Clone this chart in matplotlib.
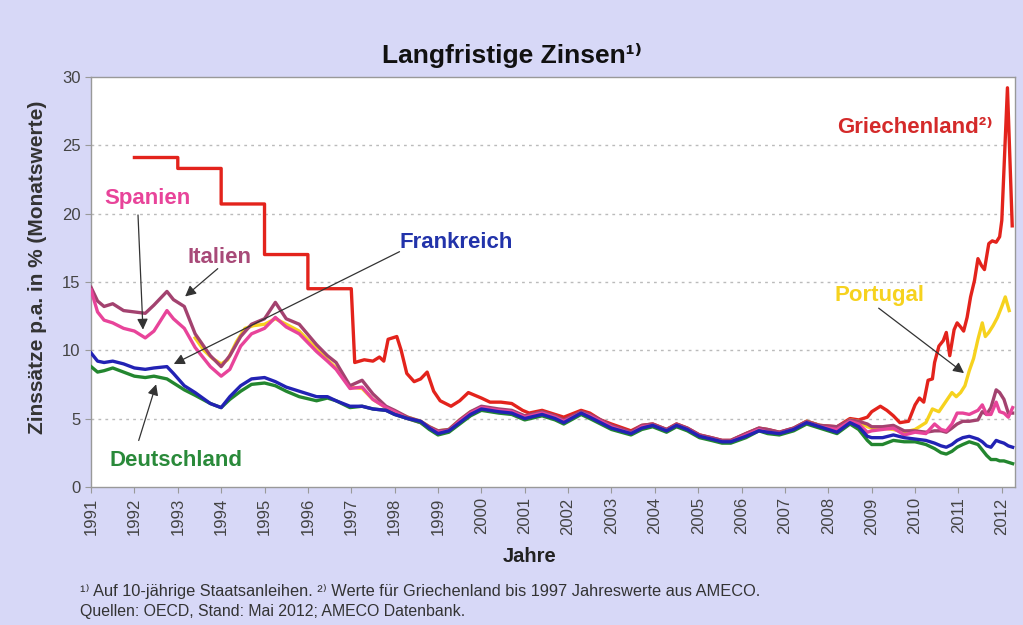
import numpy as np
import matplotlib
matplotlib.use("Agg")
import matplotlib.pyplot as plt

plt.rcParams['font.family'] = ['Liberation Sans', 'DejaVu Sans']

# gemeinsame Zeitpunkte (Dezimaljahre) fuer D, F, I, E
t = [1991.0, 1991.15, 1991.3, 1991.5, 1991.75, 1992.0, 1992.25, 1992.45, 1992.75, 1992.9,
     1993.15, 1993.4, 1993.75, 1994.0, 1994.2, 1994.45, 1994.7, 1995.0, 1995.25, 1995.5,
     1995.8, 1996.2, 1996.45, 1996.65, 1996.97, 1997.25, 1997.5, 1997.8, 1998.0, 1998.3,
     1998.6, 1998.8, 1999.0, 1999.25, 1999.5, 1999.75, 2000.0, 2000.4, 2000.7, 2001.0,
     2001.4, 2001.7, 2001.9, 2002.3, 2002.5, 2002.75, 2003.0, 2003.45, 2003.7, 2003.95,
     2004.27, 2004.5, 2004.75, 2005.03, 2005.3, 2005.55, 2005.75, 2006.1, 2006.4, 2006.6,
     2006.87, 2007.2, 2007.5, 2007.8, 2008.2, 2008.5, 2008.7, 2008.9, 2009.0, 2009.25,
     2009.5, 2009.75, 2010.0, 2010.25, 2010.45, 2010.6, 2010.72, 2010.85, 2010.97, 2011.1,
     2011.25, 2011.45, 2011.55, 2011.65, 2011.75, 2011.87, 2011.95, 2012.05, 2012.15, 2012.25]

deutschland = [8.8, 8.4, 8.5, 8.7, 8.4, 8.1, 8.0, 8.1, 7.9, 7.6,
               7.1, 6.7, 6.1, 5.8, 6.4, 7.0, 7.5, 7.6, 7.4, 7.0,
               6.6, 6.3, 6.5, 6.3, 5.8, 5.9, 5.7, 5.6, 5.3, 5.0,
               4.7, 4.2, 3.8, 4.0, 4.6, 5.2, 5.6, 5.4, 5.3, 4.9,
               5.2, 4.9, 4.6, 5.3, 5.0, 4.6, 4.2, 3.8, 4.2, 4.4,
               4.0, 4.4, 4.1, 3.6, 3.4, 3.2, 3.2, 3.6, 4.1, 3.9,
               3.8, 4.1, 4.6, 4.3, 3.9, 4.6, 4.2, 3.4, 3.1, 3.1,
               3.4, 3.3, 3.3, 3.1, 2.8, 2.5, 2.4, 2.6, 2.9, 3.1,
               3.3, 3.1, 2.7, 2.3, 2.0, 2.0, 1.9, 1.9, 1.8, 1.7]

frankreich = [9.8, 9.2, 9.1, 9.2, 9.0, 8.7, 8.6, 8.7, 8.8, 8.3,
              7.4, 6.9, 6.1, 5.8, 6.6, 7.4, 7.9, 8.0, 7.7, 7.3,
              7.0, 6.6, 6.6, 6.3, 5.9, 5.9, 5.7, 5.6, 5.3, 5.0,
              4.8, 4.3, 3.9, 4.1, 4.7, 5.3, 5.7, 5.5, 5.4, 5.0,
              5.3, 5.0, 4.7, 5.4, 5.1, 4.7, 4.3, 3.9, 4.3, 4.5,
              4.1, 4.5, 4.2, 3.7, 3.5, 3.3, 3.3, 3.7, 4.1, 4.0,
              3.9, 4.2, 4.7, 4.4, 4.0, 4.7, 4.4, 3.7, 3.6, 3.6,
              3.8, 3.6, 3.5, 3.4, 3.2, 3.0, 2.9, 3.1, 3.4, 3.6,
              3.7, 3.5, 3.3, 3.0, 2.9, 3.4, 3.3, 3.2, 3.0, 2.9]

italien = [14.6, 13.6, 13.2, 13.4, 12.9, 12.8, 12.7, 13.3, 14.3, 13.7,
           13.2, 11.2, 9.6, 8.8, 9.6, 11.0, 11.9, 12.3, 13.5, 12.3,
           11.9, 10.4, 9.6, 9.1, 7.4, 7.8, 6.8, 5.9, 5.6, 5.1,
           4.8, 4.4, 4.1, 4.2, 4.9, 5.5, 5.9, 5.7, 5.6, 5.2,
           5.5, 5.2, 4.9, 5.5, 5.3, 4.9, 4.5, 4.0, 4.5, 4.6,
           4.2, 4.6, 4.3, 3.8, 3.6, 3.4, 3.4, 3.9, 4.3, 4.2,
           4.0, 4.3, 4.8, 4.5, 4.4, 4.9, 4.8, 4.6, 4.4, 4.4,
           4.5, 4.1, 4.1, 4.0, 4.1, 4.1, 4.0, 4.3, 4.6, 4.8,
           4.8, 4.9, 5.5, 5.3, 5.8, 7.1, 6.9, 6.4, 5.4, 5.4]

spanien = [14.4, 12.8, 12.2, 12.0, 11.6, 11.4, 10.9, 11.4, 12.9, 12.3,
           11.6, 10.2, 8.8, 8.1, 8.6, 10.3, 11.2, 11.6, 12.4, 11.7,
           11.2, 9.9, 9.2, 8.6, 7.2, 7.3, 6.4, 5.8, 5.5, 5.0,
           4.7, 4.3, 4.0, 4.1, 4.8, 5.4, 5.8, 5.6, 5.5, 5.1,
           5.4, 5.1, 4.8, 5.4, 5.2, 4.8, 4.4, 3.9, 4.4, 4.5,
           4.1, 4.5, 4.2, 3.7, 3.5, 3.3, 3.3, 3.8, 4.2, 4.0,
           3.9, 4.2, 4.7, 4.4, 4.2, 4.8, 4.6, 4.0, 4.1, 4.2,
           4.3, 3.8, 4.0, 3.9, 4.6, 4.2, 4.1, 4.6, 5.4, 5.4,
           5.3, 5.6, 6.0, 5.3, 5.3, 6.2, 5.5, 5.4, 5.1, 5.8]

# Portugal (eigene Zeitpunkte)
t_pt = [1993.4, 1993.6, 1993.8, 1994.0, 1994.15, 1994.35, 1994.55, 1994.75, 1995.0, 1995.25,
        1995.5, 1995.8, 1996.2, 1996.45, 1996.65, 1996.97, 1997.25, 1997.5, 1997.8, 1998.0,
        1998.3, 1998.6, 1998.8, 1999.0, 1999.25, 1999.5, 1999.75, 2000.0, 2000.4, 2000.7,
        2001.0, 2001.4, 2001.7, 2001.9, 2002.3, 2002.5, 2002.75, 2003.0, 2003.45, 2003.7,
        2003.95, 2004.27, 2004.5, 2004.75, 2005.03, 2005.3, 2005.55, 2005.75, 2006.1, 2006.4,
        2006.6, 2006.87, 2007.2, 2007.5, 2007.8, 2008.2, 2008.5, 2008.7, 2008.9, 2009.0,
        2009.25, 2009.5, 2009.75, 2010.0, 2010.25, 2010.4, 2010.55, 2010.7, 2010.85, 2010.95,
        2011.05, 2011.15, 2011.25, 2011.35, 2011.45, 2011.55, 2011.62, 2011.7, 2011.8, 2011.9,
        2012.0, 2012.08, 2012.17]
portugal = [10.9, 10.0, 9.4, 9.0, 9.3, 10.6, 11.6, 11.8, 11.9, 12.3,
            11.9, 11.4, 10.1, 9.3, 8.7, 7.3, 7.2, 6.4, 5.8, 5.5,
            5.1, 4.8, 4.4, 4.1, 4.2, 4.9, 5.5, 5.8, 5.6, 5.5,
            5.1, 5.4, 5.1, 4.8, 5.4, 5.2, 4.8, 4.4, 3.9, 4.4,
            4.5, 4.1, 4.5, 4.2, 3.7, 3.5, 3.3, 3.3, 3.8, 4.2,
            4.1, 3.9, 4.2, 4.8, 4.5, 4.3, 4.9, 4.8, 4.4, 4.3,
            4.3, 4.2, 4.0, 4.2, 4.7, 5.7, 5.5, 6.2, 6.9, 6.6,
            6.9, 7.4, 8.5, 9.4, 10.8, 12.0, 11.0, 11.3, 11.8, 12.4,
            13.2, 13.9, 12.9]

# Griechenland: bis 1997 Jahreswerte (AMECO), danach Monatswerte
gr_jahre = [1992, 1993, 1994, 1995, 1996]
gr_jahreswerte = [24.1, 23.3, 20.7, 17.0, 14.5]
t_gr = [1997.08, 1997.3, 1997.5, 1997.65, 1997.75, 1997.85, 1998.05, 1998.15, 1998.28, 1998.45,
        1998.6, 1998.75, 1998.9, 1999.05, 1999.3, 1999.5, 1999.7, 1999.85, 2000.0, 2000.2,
        2000.45, 2000.7, 2000.95, 2001.1, 2001.4, 2001.7, 2001.9, 2002.3, 2002.5, 2002.75,
        2003.0, 2003.45, 2003.7, 2003.95, 2004.27, 2004.5, 2004.75, 2005.03, 2005.3, 2005.55,
        2005.75, 2006.1, 2006.4, 2006.6, 2006.87, 2007.2, 2007.5, 2007.8, 2008.2, 2008.5,
        2008.7, 2008.9, 2009.0, 2009.2, 2009.35, 2009.5, 2009.65, 2009.85, 2010.0, 2010.1,
        2010.2, 2010.3, 2010.4, 2010.45, 2010.55, 2010.65, 2010.72, 2010.8, 2010.9, 2010.97,
        2011.05, 2011.12, 2011.2, 2011.28, 2011.37, 2011.45, 2011.53, 2011.6, 2011.7, 2011.78,
        2011.87, 2011.95, 2012.0, 2012.13, 2012.24]
griechenland = [9.1, 9.3, 9.2, 9.5, 9.2, 10.8, 11.0, 10.0, 8.3, 7.7,
                7.9, 8.4, 7.0, 6.3, 5.9, 6.3, 6.9, 6.7, 6.5, 6.2,
                6.2, 6.1, 5.6, 5.4, 5.6, 5.3, 5.1, 5.6, 5.4, 4.9,
                4.6, 4.1, 4.5, 4.6, 4.2, 4.6, 4.3, 3.8, 3.6, 3.4,
                3.4, 3.9, 4.3, 4.2, 4.0, 4.3, 4.8, 4.5, 4.4, 5.0,
                4.9, 5.1, 5.5, 5.9, 5.6, 5.2, 4.7, 4.8, 6.0, 6.5,
                6.2, 7.8, 7.9, 9.1, 10.3, 10.7, 11.3, 9.6, 11.5, 12.0,
                11.7, 11.4, 12.4, 13.9, 15.1, 16.7, 16.2, 15.9, 17.8, 18.0,
                17.9, 18.3, 19.5, 29.2, 19.1]

jahre = list(range(1991, 2013))

# Farben
c_gr = '#e3231c'
c_pt = '#f6d21e'
c_it = '#a3426f'
c_es = '#e8449a'
c_fr = '#2222b4'
c_de = '#23862f'

# Jahreswerte als Treppe, dann Monatswerte anhaengen
gr_x = []
gr_y = []
for j, v in zip(gr_jahre, gr_jahreswerte):
    gr_x += [j, j + 1]
    gr_y += [v, v]
gr_x += t_gr
gr_y += griechenland

fig = plt.figure(figsize=(10.23, 6.25), dpi=100, facecolor='#d7d8f7')
ax = fig.add_axes([0.089, 0.221, 0.903, 0.656])
ax.set_facecolor('white')

lw = 2.4
ax.plot(gr_x, gr_y, color=c_gr, lw=lw, zorder=3)
ax.plot(t_pt, portugal, color=c_pt, lw=lw, zorder=4)
ax.plot(t, italien, color=c_it, lw=lw, zorder=5)
ax.plot(t, spanien, color=c_es, lw=lw, zorder=6)
ax.plot(t, deutschland, color=c_de, lw=lw, zorder=7)
ax.plot(t, frankreich, color=c_fr, lw=lw, zorder=8)

ax.set_xlim(1991, 2012.3)
ax.set_ylim(0, 30)
ax.set_yticks([0, 5, 10, 15, 20, 25, 30])
ax.set_xticks(jahre)
ax.set_xticklabels([str(j) for j in jahre], rotation=90)
ax.tick_params(axis='both', labelsize=12, colors='#444444', length=4, width=0.8)
ax.tick_params(axis='both', color='#999999')
for s in ax.spines.values():
    s.set_color('#999999')
    s.set_linewidth(1.0)
for yv in [5, 10, 15, 20, 25]:
    ax.axhline(yv, color='#bbbbbb', lw=1.0, ls=(0, (2, 3)), zorder=1)

ax.set_xlabel('Jahre', fontsize=14.5, fontweight='bold', color='#222222')
ax.set_ylabel('Zinssätze p.a. in % (Monatswerte)', fontsize=15, fontweight='bold',
              color='#333333')
ax.xaxis.set_label_coords(0.475, -0.147)
ax.yaxis.set_label_coords(-0.048, 0.535)

fig.text(0.5, 0.912, 'Langfristige Zinsen¹⁾', ha='center', va='center',
         fontsize=19, fontweight='bold', color='#111111')

# Beschriftungen der Linien
lab = dict(fontsize=16, fontweight='bold', ha='center', va='center', zorder=10)
ax.text(1992.31, 21.1, 'Spanien', color=c_es, **lab)
ax.text(1993.97, 16.8, 'Italien', color='#a84a78', **lab)
ax.text(1999.43, 17.9, 'Frankreich', color='#2233aa', **lab)
ax.text(1992.96, 1.9, 'Deutschland', color='#2a8a3a', **lab)
ax.text(2009.18, 14.0, 'Portugal', color=c_pt, **lab)
ax.text(2010.0, 26.3, 'Griechenland²⁾', color='#d42a2a', **lab)

pfeil = dict(arrowstyle='-|>', color='#333333', lw=0.9, mutation_scale=16)
ax.annotate('', xy=(1992.2, 11.3), xytext=(1992.08, 20.1), arrowprops=pfeil, zorder=11)
ax.annotate('', xy=(1993.12, 13.8), xytext=(1993.97, 16.1), arrowprops=pfeil, zorder=11)
ax.annotate('', xy=(1992.85, 8.9), xytext=(1998.17, 17.3), arrowprops=pfeil, zorder=11)
ax.annotate('', xy=(1992.52, 7.7), xytext=(1992.08, 3.2), arrowprops=pfeil, zorder=11)
ax.annotate('', xy=(2011.18, 8.2), xytext=(2009.11, 13.2), arrowprops=pfeil, zorder=11)

fig.text(0.078, 0.054, '¹⁾ Auf 10-jährige Staatsanleihen. ²⁾ Werte für Griechenland bis 1997 '
         'Jahreswerte aus AMECO.', fontsize=11.8, color='#333333', va='center')
fig.text(0.078, 0.022, 'Quellen: OECD, Stand: Mai 2012; AMECO Datenbank.',
         fontsize=11.4, color='#333333', va='center')

fig.savefig('out.png', dpi=100, facecolor=fig.get_facecolor())
